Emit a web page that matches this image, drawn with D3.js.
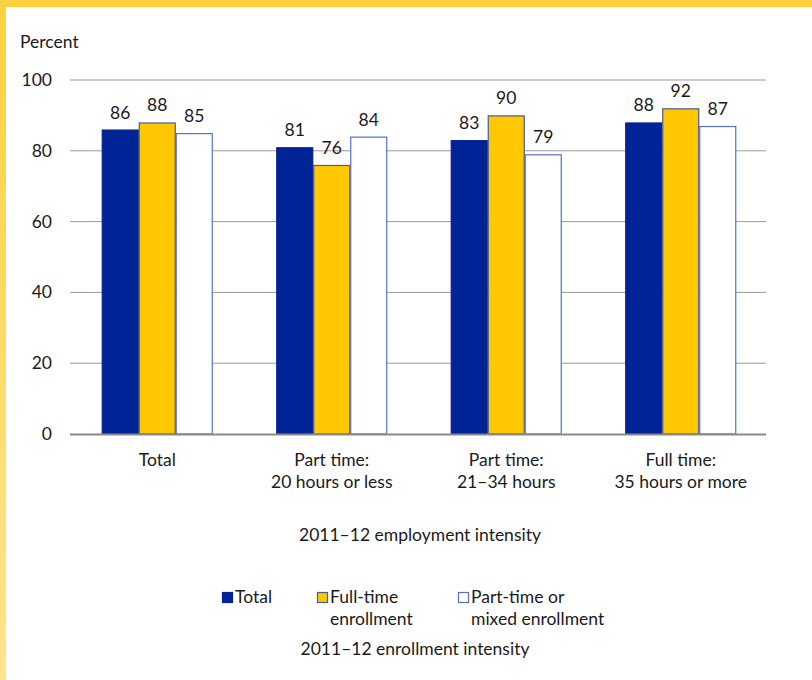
<html>
<head>
<script src="https://d3js.org/d3.v7.min.js"></script>
<style>
  body { margin: 0; background: white; }
  text { font-family: Lato, "Noto Sans", sans-serif; fill: #1a1a1a; }
</style>
</head>
<body>
<svg id="chart" width="812" height="680"></svg>
<script>
// data
const categories = ["Total", "Part time:|20 hours or less", "Part time:|21\u201334 hours", "Full time:|35 hours or more"];
const seriesNames = ["Total", "Full-time|enrollment", "Part-time or|mixed enrollment"];
const totalVals = [86, 81, 83, 88];
const fullTimeVals = [88, 76, 90, 92];
const partTimeVals = [85, 84, 79, 87];
const yTicks = [0, 20, 40, 60, 80, 100];

const fills = ["#002395", "#FFC800", "#FFFFFF"];
const strokes = ["#002395", "#4a5a9a", "#5570c8"];
const fs = 17.5;

const svg = d3.select("#chart");

// yellow frame on top and left
const grad = svg.append("defs").append("linearGradient")
  .attr("id", "edge").attr("x1", 0).attr("y1", 0).attr("x2", 0).attr("y2", 1);
grad.append("stop").attr("offset", "0%").attr("stop-color", "#FFD13F");
grad.append("stop").attr("offset", "100%").attr("stop-color", "#FFE48C");
svg.append("rect").attr("x", 0).attr("y", 0).attr("width", 6).attr("height", 680).attr("fill", "url(#edge)");
svg.append("rect").attr("x", 0).attr("y", 0).attr("width", 812).attr("height", 7).attr("fill", "#FFD13F");

const plotL = 70, plotR = 768, plotT = 80, plotB = 434;

const x = d3.scaleBand().domain(d3.range(categories.length)).range([plotL, plotR]);
const xs = d3.scaleBand().domain(d3.range(3)).range([0, 111]);
const y = d3.scaleLinear().domain([0, 100]).range([plotB, plotT]);

// gridlines
svg.append("g").selectAll("line").data(yTicks.filter(d => d > 0)).join("line")
  .attr("x1", plotL).attr("x2", plotR - 2)
  .attr("y1", d => y(d)).attr("y2", d => y(d))
  .attr("stroke", "#9a9a9a").attr("stroke-width", 1);

// y tick labels
svg.append("g").selectAll("text").data(yTicks).join("text")
  .attr("x", 52).attr("y", d => y(d) + 6)
  .attr("text-anchor", "end").attr("font-size", fs)
  .text(d => d);

svg.append("text").attr("x", 20).attr("y", 48).attr("font-size", fs).text("Percent");

// bars
const rows = [];
categories.forEach((c, i) => {
  [totalVals[i], fullTimeVals[i], partTimeVals[i]].forEach((v, s) => rows.push({ c: i, s: s, v: v }));
});

const gx = c => x(c) + (x.bandwidth() - 111) / 2;

svg.append("g").selectAll("rect").data(rows).join("rect")
  .attr("x", d => gx(d.c) + xs(d.s) + 0.5)
  .attr("y", d => y(d.v) + 0.5)
  .attr("width", xs.bandwidth() - 1)
  .attr("height", d => y(0) - y(d.v) - 0.5)
  .attr("fill", d => fills[d.s])
  .attr("stroke", d => strokes[d.s])
  .attr("stroke-width", 1.2);

svg.append("g").selectAll("text").data(rows).join("text")
  .attr("x", d => gx(d.c) + xs(d.s) + xs.bandwidth() / 2)
  .attr("y", d => y(d.v) - 11)
  .attr("text-anchor", "middle").attr("font-size", fs)
  .text(d => d.v);

// baseline
svg.append("line").attr("x1", plotL).attr("x2", plotR - 2)
  .attr("y1", y(0) + 0.5).attr("y2", y(0) + 0.5)
  .attr("stroke", "#8a8a8a").attr("stroke-width", 2);

// category labels
const catG = svg.append("g").selectAll("text").data(categories).join("text")
  .attr("text-anchor", "middle").attr("font-size", fs)
  .attr("x", (d, i) => x(i) + x.bandwidth() / 2);
catG.each(function(d, i) {
  const t = d3.select(this);
  d.split("|").forEach((line, k) => {
    t.append("tspan").attr("x", x(i) + x.bandwidth() / 2).attr("y", 466 + k * 22).text(line);
  });
});

svg.append("text").attr("x", 420).attr("y", 541).attr("text-anchor", "middle").attr("font-size", fs)
  .text("2011\u201312 employment intensity");

// legend
const legX = [222, 317, 458];
const leg = svg.append("g").selectAll("g").data(seriesNames).join("g")
  .attr("transform", (d, i) => `translate(${legX[i]},0)`);
leg.append("rect").attr("x", 0.5).attr("y", 592.5).attr("width", 10).attr("height", 10)
  .attr("fill", (d, i) => fills[i]).attr("stroke", (d, i) => strokes[i]).attr("stroke-width", 1.2);
leg.append("text").attr("font-size", fs).each(function(d) {
  const t = d3.select(this);
  d.split("|").forEach((line, k) => {
    t.append("tspan").attr("x", 13).attr("y", 603 + k * 22).text(line);
  });
});

svg.append("text").attr("x", 415).attr("y", 655).attr("text-anchor", "middle").attr("font-size", fs)
  .text("2011\u201312 enrollment intensity");
</script>
</body>
</html>
